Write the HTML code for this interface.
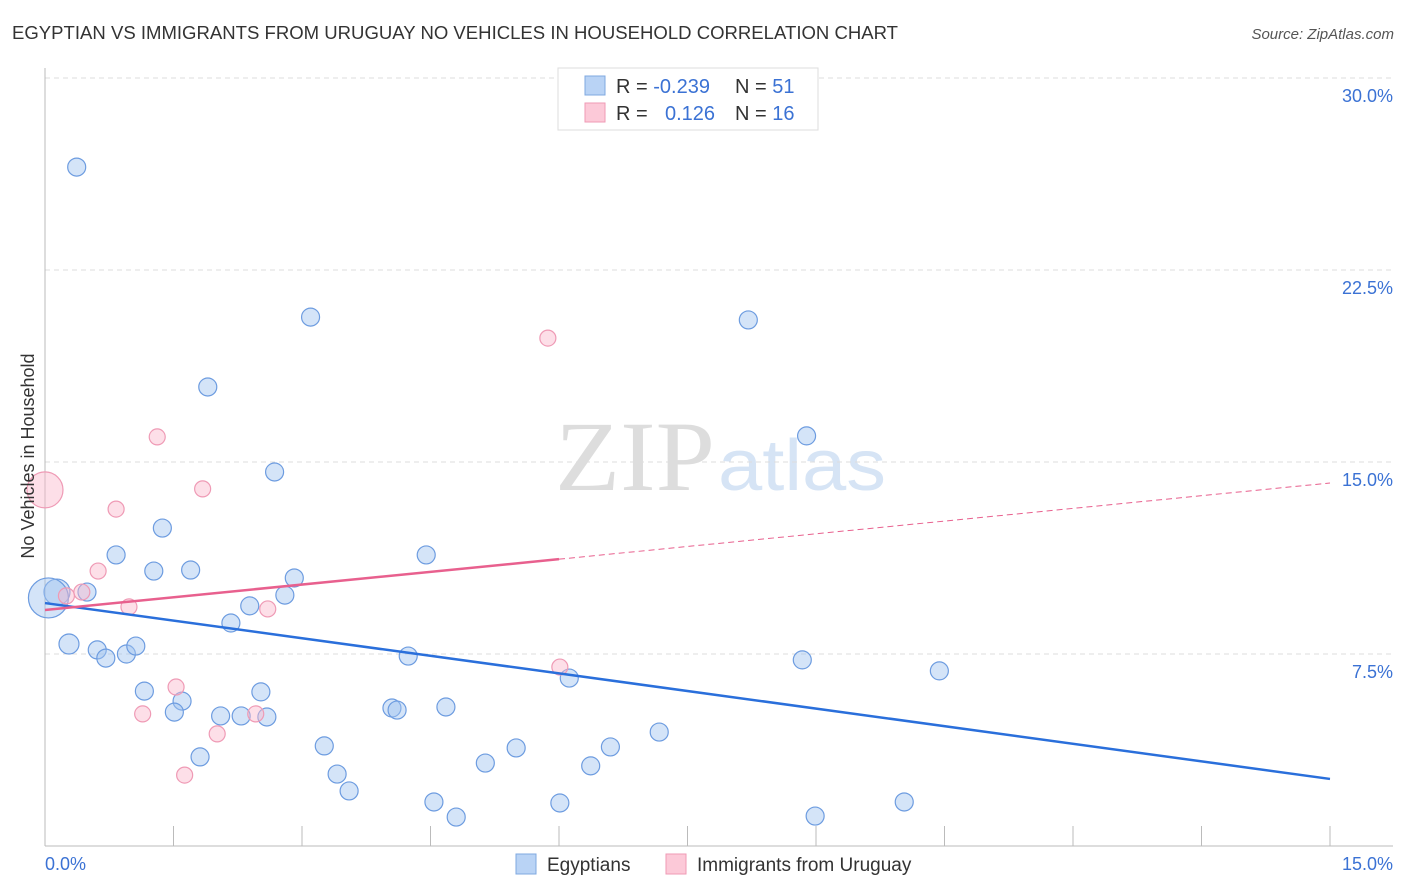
<!DOCTYPE html>
<html><head><meta charset="utf-8"><style>
body{margin:0;background:#fff;font-family:"Liberation Sans",sans-serif;}
svg{display:block}
</style></head><body>
<svg id="chart" width="1406" height="892" xmlns="http://www.w3.org/2000/svg">
<text x="12" y="39" font-size="18" fill="#333" textLength="886" lengthAdjust="spacingAndGlyphs">EGYPTIAN VS IMMIGRANTS FROM URUGUAY NO VEHICLES IN HOUSEHOLD CORRELATION CHART</text>
<text x="1394" y="39" font-size="15" fill="#555" font-style="italic" text-anchor="end">Source: ZipAtlas.com</text>
<g>
<text x="635" y="490" font-size="100" fill="#ddd" font-family="Liberation Serif,serif" text-anchor="middle" textLength="160" lengthAdjust="spacingAndGlyphs">ZIP</text>
<text x="802" y="490" font-size="72" fill="#d6e4f5" text-anchor="middle" textLength="168" lengthAdjust="spacingAndGlyphs">atlas</text>
</g>
<g id="grid"></g>
<g id="axes"></g>
<g id="marks"></g>
<text transform="translate(34,456) rotate(-90)" font-size="18" fill="#333" text-anchor="middle">No Vehicles in Household</text>
<g>
<rect x="558" y="68" width="260" height="62" fill="#fff" stroke="#ddd"/>
<rect x="585" y="76" width="20" height="19" fill="#b9d3f5" stroke="#7fa8e0"/>
<rect x="585" y="103" width="20" height="19" fill="#fcc9d8" stroke="#ef9ab5"/>
<text x="616" y="93" font-size="20" fill="#333">R = <tspan fill="#3b72d4">-0.239</tspan></text>
<text x="735" y="93" font-size="20" fill="#333">N = <tspan fill="#3b72d4">51</tspan></text>
<text x="616" y="120" font-size="20" fill="#333">R = <tspan fill="#3b72d4" x="665">0.126</tspan></text>
<text x="735" y="120" font-size="20" fill="#333">N = <tspan fill="#3b72d4">16</tspan></text>
</g>
<g>
<rect x="516" y="854" width="20" height="20" fill="#b9d3f5" stroke="#7fa8e0"/>
<text x="547" y="871" font-size="19" fill="#333">Egyptians</text>
<rect x="666" y="854" width="20" height="20" fill="#fcc9d8" stroke="#ef9ab5"/>
<text x="697" y="871" font-size="19" fill="#333">Immigrants from Uruguay</text>
</g>
</svg>
<script>
const yTicks=[7.5,15,22.5,30];
const yTickLabels=["7.5%","15.0%","22.5%","30.0%"];
const xTickCount=10;
const blueX=[0.37,3.10,8.21,1.90,8.89,2.68,1.37,0.83,4.45,1.27,1.70,2.91,0.49,0.14,0.04,2.80,2.39,2.17,0.28,0.61,0.71,0.95,1.06,4.24,8.84,10.44,6.12,1.16,2.52,1.60,1.51,2.05,2.29,2.59,4.05,4.11,4.68,7.17,3.26,5.50,6.60,1.81,5.14,3.41,6.37,3.55,4.54,6.01,10.03,4.80,8.99];
const blueY=[26.52,20.66,20.55,17.93,16.02,14.61,12.42,11.37,11.37,10.74,10.78,10.47,9.92,9.92,9.69,9.80,9.38,8.71,7.89,7.66,7.34,7.50,7.81,7.42,7.27,6.84,6.56,6.05,6.02,5.66,5.23,5.08,5.08,5.04,5.39,5.31,5.43,4.45,3.91,3.83,3.87,3.48,3.24,2.81,3.13,2.15,1.72,1.68,1.72,1.13,1.17];
const blueR=[9,9,9,9,9,9,9,9,9,9,9,9,9,13,20,9,9,9,10,9,9,9,9,9,9,9,9,9,9,9,9,9,9,9,9,9,9,9,9,9,9,9,9,9,9,9,9,9,9,9,9];
const pinkX=[5.87,1.31,1.84,0,0.83,0.62,0.43,0.25,0.98,2.60,6.01,1.53,1.14,2.46,2.01,1.63];
const pinkY=[19.84,15.98,13.95,13.91,13.16,10.74,9.92,9.77,9.34,9.26,6.99,6.21,5.16,5.16,4.38,2.77];
const pinkR=[8,8,8,18,8,8,8,8,8,8,8,8,8,8,8,8];
const blueTrend=[9.49,2.62];
const pinkTrend=[9.22,14.18];
const pinkSolidEnd=6.0;

const NS="http://www.w3.org/2000/svg";
const X=v=>45+v/15*1285, Y=v=>846-v/30*768;
function mk(tag,attrs,parent){const e=document.createElementNS(NS,tag);for(const k in attrs)e.setAttribute(k,attrs[k]);parent.appendChild(e);return e;}
const grid=document.getElementById('grid'),axes=document.getElementById('axes'),marks=document.getElementById('marks');
yTicks.forEach((t,i)=>{
 const l=mk('line',{x1:45,x2:1393,y1:Y(t),y2:Y(t),stroke:'#ddd','stroke-dasharray':'5,4'},grid);
 
 
 const tx=mk('text',{x:1393,y:Y(t)+24,'font-size':18,fill:'#3b72d4','text-anchor':'end'},axes);
 tx.textContent=yTickLabels[i];
 
 
});
let a=mk('line',{x1:45,x2:45,y1:68,y2:846,stroke:'#bbb'},axes);


a=mk('line',{x1:45,x2:1393,y1:846,y2:846,stroke:'#bbb'},axes);


for(let i=1;i<=xTickCount;i++){const t=mk('line',{x1:X(i*1.5),x2:X(i*1.5),y1:826,y2:846,stroke:'#bbb'},axes);
 
 }
let xl=mk('text',{x:45,y:870,'font-size':18,fill:'#3b72d4'},axes);xl.textContent='0.0%';


xl=mk('text',{x:1393,y:870,'font-size':18,fill:'#3b72d4','text-anchor':'end'},axes);xl.textContent='15.0%';


blueX.forEach((v,i)=>{const c=mk('circle',{cx:X(v),cy:Y(blueY[i]),r:blueR[i],fill:'rgba(160,196,240,0.45)',stroke:'#6d9ce0','stroke-width':1.2},marks);
 
 });
pinkX.forEach((v,i)=>{const c=mk('circle',{cx:X(v),cy:Y(pinkY[i]),r:pinkR[i],fill:'rgba(250,185,205,0.45)',stroke:'#ef9ab5','stroke-width':1.2},marks);
 
 });
let ln=mk('line',{x1:X(0),y1:Y(blueTrend[0]),x2:X(15),y2:Y(blueTrend[1]),stroke:'#2a6fdb','stroke-width':2.5},marks);


const pAt=x=>pinkTrend[0]+(pinkTrend[1]-pinkTrend[0])*x/15;
ln=mk('line',{x1:X(0),y1:Y(pAt(0)),x2:X(pinkSolidEnd),y2:Y(pAt(pinkSolidEnd)),stroke:'#e8608e','stroke-width':2.5},marks);


ln=mk('line',{x1:X(pinkSolidEnd),y1:Y(pAt(pinkSolidEnd)),x2:X(15),y2:Y(pAt(15)),stroke:'#e8608e','stroke-width':1,'stroke-dasharray':'6,4'},marks);


</script>
</body></html>
